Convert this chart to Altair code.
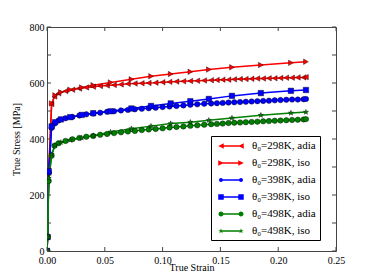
import altair as alt
import pandas as pd

series = ["θ₀=298K, adia", "θ₀=298K, iso", "θ₀=398K, adia",
          "θ₀=398K, iso", "θ₀=498K, adia", "θ₀=498K, iso"]
colors = ["#ff0000", "#ff0000", "#0000ff", "#0000ff", "#008000", "#008000"]

strain_adia = [0, 0.0005, 0.0015, 0.004, 0.0065, 0.01, 0.016, 0.022, 0.028, 0.034,
               0.040, 0.046, 0.052, 0.058, 0.064, 0.070, 0.076, 0.082, 0.088, 0.094,
               0.100, 0.106, 0.112, 0.118, 0.124, 0.130, 0.136, 0.142, 0.147, 0.152,
               0.157, 0.162, 0.167, 0.172, 0.177, 0.182, 0.187, 0.192, 0.197, 0.202,
               0.207, 0.212, 0.217, 0.222, 0.224]
red_adia = [0, 50, 280, 525, 552, 563, 571, 576, 580, 584,
            587, 589, 591, 593, 595, 597, 598, 599, 600, 601,
            603, 604, 605, 606, 607, 608, 609, 610, 611, 612,
            612, 613, 614, 614, 615, 616, 616, 617, 617, 618,
            619, 619, 620, 620, 621]
blue_adia = [0, 50, 280, 440, 455, 466, 474, 479, 484, 488,
             491, 494, 497, 499, 502, 504, 506, 508, 510, 512,
             514, 516, 518, 520, 522, 524, 526, 527, 528, 529,
             530, 531, 532, 533, 534, 535, 536, 537, 538, 539,
             540, 541, 541, 542, 543]
green_adia = [0, 50, 250, 340, 376, 385, 393, 399, 404, 408,
              411, 415, 418, 421, 424, 427, 429, 432, 434, 436,
              438, 441, 443, 445, 447, 449, 451, 453, 454, 455,
              457, 458, 459, 460, 461, 462, 463, 464, 465, 466,
              467, 468, 469, 470, 471]

strain_iso = [0, 0.0005, 0.0015, 0.004, 0.007, 0.012, 0.02, 0.03, 0.04, 0.055,
              0.073, 0.09, 0.107, 0.124, 0.14, 0.16, 0.185, 0.211, 0.224]
red_iso = [0, 50, 290, 527, 556, 567, 576, 584, 592, 602,
           613, 624, 632, 640, 648, 656, 664, 672, 676]
blue_iso = [0, 50, 285, 445, 460, 470, 478, 486, 492, 499,
            509, 518, 527, 535, 543, 554, 564, 572, 575]
green_iso = [0, 50, 260, 345, 378, 388, 396, 404, 412, 425,
             437, 446, 455, 460, 467, 475, 485, 493, 496]

xticks = [0.0, 0.05, 0.10, 0.15, 0.20, 0.25]
yticks = [0, 100, 200, 300, 400, 500, 600, 700, 800]

curves = [(strain_adia, red_adia), (strain_iso, red_iso),
          (strain_adia, blue_adia), (strain_iso, blue_iso),
          (strain_adia, green_adia), (strain_iso, green_iso)]
rows = []
for i, (xs, ys) in enumerate(curves):
    for j, (a, b) in enumerate(zip(xs, ys)):
        rows.append({"series": series[i], "strain": a, "stress": b, "order": i, "k": j})
df = pd.DataFrame(rows)

# marker shapes (unit square -1..1)
star = "M0,-1L0.24,-0.31L0.95,-0.31L0.38,0.12L0.59,0.81L0,0.4L-0.59,0.81L-0.38,0.12L-0.95,-0.31L-0.24,-0.31Z"
shapes = ["triangle-left", "triangle-right", "circle", "square", "circle", star]
sizes = [30, 30, 16, 36, 25, 25]


# legend symbols: line with two markers (all clockwise so overlaps stay filled)
def f(v):
    return f"{v:.3f}"


def tri(c, d, r=0.55):
    if d < 0:  # pointing left
        return f"M{f(c - r)},0L{f(c + r)},{f(-r)}L{f(c + r)},{f(r)}Z"
    return f"M{f(c + r)},0L{f(c - r)},{f(r)}L{f(c - r)},{f(-r)}Z"


def circ(c, r):
    return f"M{f(c - r)},0A{f(r)},{f(r)} 0 1 1 {f(c + r)},0A{f(r)},{f(r)} 0 1 1 {f(c - r)},0Z"


def sq(c, r):
    return f"M{f(c - r)},{f(-r)}L{f(c + r)},{f(-r)}L{f(c + r)},{f(r)}L{f(c - r)},{f(r)}Z"


def st(c, r):
    pts = [(0, -1), (0.24, -0.31), (0.95, -0.31), (0.38, 0.12), (0.59, 0.81), (0, 0.4),
           (-0.59, 0.81), (-0.38, 0.12), (-0.95, -0.31), (-0.24, -0.31)]
    return "M" + "L".join(f"{f(c + px * r)},{f(py * r)}" for px, py in pts) + "Z"


line = "M-2,-0.15L2,-0.15L2,0.15L-2,0.15Z"
leg_shapes = [
    line + tri(-2, -1) + tri(2, -1),
    line + tri(-2, 1) + tri(2, 1),
    line + circ(-2, 0.4) + circ(2, 0.4),
    line + sq(-2, 0.55) + sq(2, 0.55),
    line + circ(-2, 0.5) + circ(2, 0.5),
    line + st(-2, 0.55) + st(2, 0.55),
]

FONT = "Liberation Serif"
W, H = 289, 224
xscale = alt.Scale(domain=[0, 0.25], nice=False)
yscale = alt.Scale(domain=[0, 800], nice=False)
cscale = alt.Scale(domain=series, range=colors)

lines = alt.Chart(df).mark_line(strokeWidth=1.5, clip=True).encode(
    x=alt.X("strain:Q", scale=xscale,
            axis=alt.Axis(values=xticks, format=".2f", title="True Strain",
                          labelFont=FONT, labelFontSize=10, titleFont=FONT,
                          titleFontSize=10, titleFontWeight="normal", titleColor="black",
                          labelColor="black", ticks=False, domain=False, grid=False,
                          labelPadding=4, titleY=19.5, titleBaseline="alphabetic",
                          labelFlush=False, labelOverlap=False)),
    y=alt.Y("stress:Q", scale=yscale,
            axis=alt.Axis(values=yticks, title="True Stress [MPa]",
                          labelFont=FONT, labelFontSize=10, titleFont=FONT,
                          titleFontSize=10, titleFontWeight="normal", titleColor="black",
                          labelColor="black", ticks=False, domain=False, grid=False,
                          labelPadding=3, titlePadding=8, labelFlush=False,
                          labelOverlap=False)),
    color=alt.Color("series:N", scale=cscale, legend=None),
    detail="series:N",
    order="k:Q",
)

points = alt.Chart(df).mark_point(filled=True, opacity=1, stroke="black",
                                  strokeWidth=0.4, clip=True).encode(
    x=alt.X("strain:Q", scale=xscale),
    y=alt.Y("stress:Q", scale=yscale),
    color=alt.Color("series:N", scale=cscale, legend=None),
    shape=alt.Shape("series:N", scale=alt.Scale(domain=series, range=shapes), legend=None),
    size=alt.Size("series:N", scale=alt.Scale(domain=series, range=sizes), legend=None),
)

leg_df = pd.DataFrame({"series": series, "strain": [1.0] * 6, "stress": [0] * 6})
legend_props = dict(title=None, orient="none", legendX=164, legendY=109,
                    labelFont=FONT, labelFontSize=11, labelColor="black",
                    strokeColor="black", fillColor="white", padding=4,
                    symbolSize=100, symbolOffset=10, labelOffset=15,
                    rowPadding=6, labelLimit=200)
legend_layer = alt.Chart(leg_df).mark_point(filled=True, opacity=1, clip=True).encode(
    x=alt.X("strain:Q", scale=xscale),
    y=alt.Y("stress:Q", scale=yscale),
    color=alt.Color("series:N", scale=cscale, legend=alt.Legend(**legend_props)),
    shape=alt.Shape("series:N", scale=alt.Scale(domain=series, range=leg_shapes),
                    legend=alt.Legend(**legend_props)),
)

tick_col = "#444444"
xt = pd.DataFrame({"v": xticks})
yt = pd.DataFrame({"v": yticks})
xt_bottom = alt.Chart(xt).mark_rule(color=tick_col, strokeWidth=1).encode(
    x=alt.X("v:Q", scale=xscale), y=alt.value(H), y2=alt.value(H - 4))
xt_top = alt.Chart(xt).mark_rule(color=tick_col, strokeWidth=1).encode(
    x=alt.X("v:Q", scale=xscale), y=alt.value(0), y2=alt.value(4))
yt_left = alt.Chart(yt).mark_rule(color=tick_col, strokeWidth=1).encode(
    y=alt.Y("v:Q", scale=yscale), x=alt.value(0), x2=alt.value(4))
yt_right = alt.Chart(yt).mark_rule(color=tick_col, strokeWidth=1).encode(
    y=alt.Y("v:Q", scale=yscale), x=alt.value(W - 4), x2=alt.value(W))

chart = alt.layer(lines, points, xt_bottom, xt_top, yt_left, yt_right, legend_layer).resolve_scale(
    shape="independent", size="independent", color="independent"
).properties(
    width=W, height=H,
    autosize=alt.AutoSizeParams(type="none"),
    padding={"left": 39, "top": 19, "right": 28, "bottom": 21},
    background="white",
).configure_view(stroke="#444444", strokeWidth=1)

chart.save("out.html", embed_options={"renderer": "svg", "actions": False})
